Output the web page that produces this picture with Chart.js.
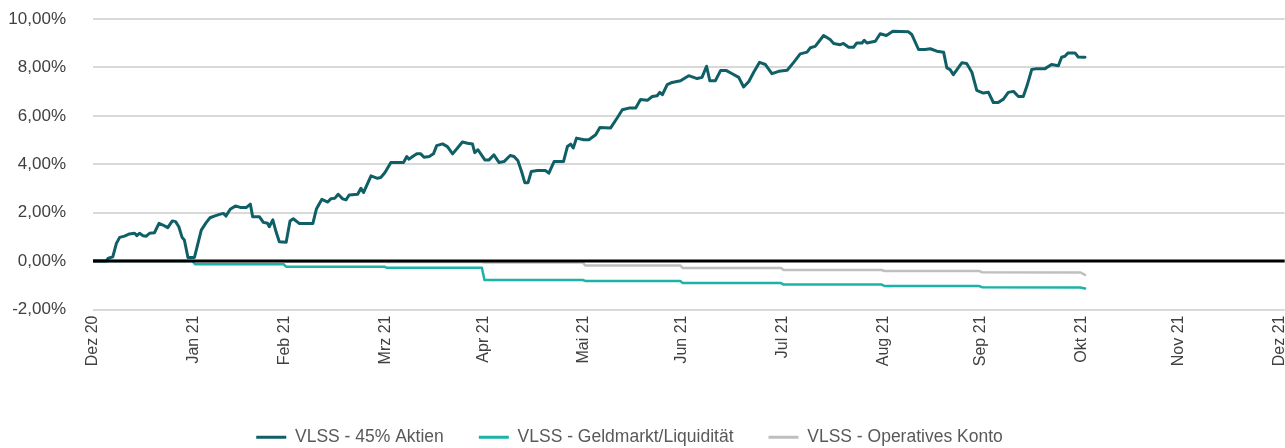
<!DOCTYPE html>
<html><head><meta charset="utf-8">
<script src="https://cdn.jsdelivr.net/npm/chart.js@4.4.0/dist/chart.umd.min.js"></script>
<style>
html,body{margin:0;padding:0;background:#fff;overflow:hidden;width:1285px;height:448px}
#wrap{position:relative;width:1305px;height:456px}
</style></head>
<body><div id="wrap"><canvas id="c" width="1305" height="456"></canvas></div>
<script>
// x = days since 31.12.2020; ticks at month ends
const monthTickDays = [0,31,59,90,120,151,181,212,243,273,304,334,365];
const monthLabels = ['Dez 20','Jan 21','Feb 21','Mrz 21','Apr 21','Mai 21','Jun 21','Jul 21','Aug 21','Sep 21','Okt 21','Nov 21','Dez 21'];
const seriesNames = ['VLSS - 45% Aktien','VLSS - Geldmarkt/Liquidität','VLSS - Operatives Konto'];

const aktienDays = [0,4.1,4.6,6.1,7.2,8.2,9.7,11.2,12.8,13.5,
14.3,15.4,16.4,17.4,18.9,20.3,21.5,23.0,24.4,25.4,
26.4,27.4,28.1,29.2,31.2,33.3,34.8,36.0,37.3,38.9,
40.1,40.9,42.2,43.8,45.5,47.1,48.4,49.1,51.2,52.4,
53.7,54.2,55.3,56.3,57.3,59.4,60.6,61.6,63.5,67.6,
68.7,70.4,72.2,73.2,74.4,75.4,76.8,77.8,78.8,81.4,
82.4,83.2,85.5,87.5,88.5,89.8,91.6,95.5,96.5,97.2,
98.3,99.6,100.8,101.8,103.4,104.7,105.7,107.5,109.0,110.6,
112.1,113.6,115.2,116.7,117.4,118.4,120.5,121.8,123.3,124.9,
126.4,128.3,129.5,130.7,131.8,132.8,133.8,134.8,136.7,139.2,
140.2,141.8,144.7,145.9,146.9,147.7,148.7,151.0,152.5,154.6,
155.9,159.2,161.2,162.8,164.8,166.9,168.4,170.5,172.0,173.5,
174.3,175.1,176.6,178.1,180.7,183.2,185.8,187.3,188.7,189.7,
191.4,193.0,194.8,196.6,198.6,200.1,201.7,203.2,205.0,206.8,
208.8,210.9,213.5,215.5,217.5,219.6,220.6,222.1,224.7,226.7,
227.8,229.8,230.8,232.4,233.9,234.9,236.5,237.2,238.0,240.6,
242.1,244.0,246.0,248.2,250.8,251.8,253.9,255.9,257.5,259.5,
261.6,262.6,263.6,264.6,267.2,268.7,270.3,271.8,273.8,275.4,
276.9,278.4,280.0,281.5,283.1,284.6,286.1,287.2,288.7,290.2,
292.8,294.8,296.9,297.9,298.9,299.9,302.0,303.0,305.1];
const aktienValues = [0,0,0.11,0.18,0.73,0.98,1.03,1.12,1.15,1.05,
1.15,1.05,1.03,1.15,1.17,1.56,1.49,1.38,1.66,1.63,
1.42,0.98,0.87,0.15,0.15,1.28,1.59,1.79,1.86,1.93,
1.97,1.86,2.14,2.28,2.21,2.21,2.35,1.83,1.83,1.60,
1.56,1.42,1.70,1.21,0.80,0.78,1.66,1.75,1.55,1.55,
2.15,2.55,2.44,2.58,2.60,2.76,2.57,2.53,2.73,2.76,
3.01,2.83,3.52,3.42,3.45,3.66,4.07,4.07,4.32,4.21,
4.32,4.43,4.43,4.29,4.32,4.43,4.77,4.84,4.73,4.43,
4.67,4.92,4.87,4.84,4.48,4.60,4.18,4.18,4.39,4.07,
4.11,4.36,4.32,4.14,3.70,3.24,3.24,3.70,3.74,3.74,
3.63,4.11,4.11,4.73,4.83,4.67,5.08,5.01,5.01,5.22,
5.52,5.50,5.91,6.25,6.32,6.32,6.67,6.64,6.80,6.83,
6.97,6.87,7.29,7.38,7.45,7.66,7.54,7.59,8.05,7.45,
7.45,7.87,7.87,7.74,7.59,7.19,7.42,7.80,8.21,8.12,
7.74,7.84,7.88,8.21,8.56,8.63,8.81,8.87,9.32,9.15,
8.99,8.94,8.99,8.83,8.83,9.01,9.01,9.12,9.01,9.08,
9.39,9.32,9.49,9.48,9.47,9.36,8.74,8.74,8.77,8.67,
8.63,7.98,7.91,7.70,8.19,8.16,7.80,7.05,6.94,6.97,
6.55,6.55,6.69,6.97,7.01,6.80,6.80,7.22,7.91,7.95,
7.95,8.12,8.07,8.42,8.46,8.60,8.60,8.43,8.42];

const geldDays = [0,30.6,31.4,58.6,59.4,89.6,90.4,119.6,120.4,150.6,151.4,180.6,181.4,211.6,212.4,242.6,243.4,272.6,273.4,303.6,305.1];
const geldValues = [0,0,-0.13,-0.13,-0.23,-0.23,-0.28,-0.28,-0.78,-0.78,-0.82,-0.82,-0.91,-0.91,-0.97,-0.97,-1.03,-1.03,-1.08,-1.09,-1.13];

const kontoDays = [0,30.6,31.4,58.6,59.4,89.6,90.4,119.6,120.4,150.6,151.4,180.6,181.4,211.6,212.4,242.6,243.4,272.6,273.4,303.6,305.1];
const kontoValues = [0,0,-0.01,-0.01,-0.03,-0.03,-0.04,-0.04,-0.06,-0.06,-0.18,-0.18,-0.29,-0.29,-0.37,-0.37,-0.41,-0.41,-0.46,-0.47,-0.57];

const xMin = 0, xMax = 366.5;
const yMin = -2, yMax = 10, yStep = 2;

const toXY = (xs, ys) => xs.map((x, i) => ({x, y: ys[i]}));

Chart.defaults.font.family = '"Liberation Sans", Arial, Helvetica, sans-serif';

const legendShift = {
  id: 'legendShift',
  afterLayout(chart) {
    const lg = chart.legend;
    if (lg) { lg.left -= 23; lg.right -= 23; }
  }
};

new Chart(document.getElementById('c'), {
  type: 'line',
  data: {
    datasets: [
      {label: seriesNames[0], data: toXY(aktienDays, aktienValues), borderColor: '#0f5f66', backgroundColor: '#0f5f66', borderWidth: 3, order: 1},
      {label: seriesNames[1], data: toXY(geldDays, geldValues), borderColor: '#1bb3a7', backgroundColor: '#1bb3a7', borderWidth: 2.5, order: 2},
      {label: seriesNames[2], data: toXY(kontoDays, kontoValues), borderColor: '#bfbfbf', backgroundColor: '#bfbfbf', borderWidth: 2.5, order: 3},
      {label: 'zero', data: [{x: xMin, y: 0}, {x: xMax, y: 0}], borderColor: '#000000', backgroundColor: '#000000', borderWidth: 3, order: 0}
    ]
  },
  options: {
    responsive: false,
    animation: false,
    devicePixelRatio: 1,
    elements: {point: {radius: 0, hoverRadius: 0}, line: {tension: 0, borderJoinStyle: 'round', borderCapStyle: 'round'}},
    layout: {padding: {top: 19, left: 0, right: 0, bottom: 0}},
    plugins: {
      tooltip: {enabled: false},
      legend: {
        position: 'bottom',
        labels: {
          boxWidth: 30,
          boxHeight: 3,
          padding: 35,
          color: '#595959',
          font: {size: 17.5},
          generateLabels: (chart) => Chart.defaults.plugins.legend.labels.generateLabels(chart)
            .map(it => Object.assign(it, {lineWidth: 0, fillStyle: it.strokeStyle})),
          filter: (item) => item.text !== 'zero'
        }
      }
    },
    scales: {
      x: {
        type: 'linear',
        min: xMin, max: xMax,
        grid: {display: false, drawTicks: false},
        border: {display: false},
        afterBuildTicks: (axis) => { axis.ticks = monthTickDays.map(v => ({value: v})); },
        afterFit: (scale) => { scale.height = 84; },
        ticks: {
          autoSkip: false,
          minRotation: 90, maxRotation: 90,
          padding: 6,
          color: '#404040',
          font: {size: 16},
          callback: (v, i) => monthLabels[i]
        }
      },
      y: {
        type: 'linear',
        min: yMin, max: yMax,
        border: {display: false},
        afterFit: (scale) => { scale.width = 93; scale.paddingTop = 0; scale.paddingBottom = 0; },
        grid: {
          drawTicks: false,
          color: (ctx) => ctx.tick && ctx.tick.value === 0 ? 'rgba(0,0,0,0)' : '#d9d9d9',
          lineWidth: 2
        },
        ticks: {
          stepSize: yStep,
          padding: 27,
          color: '#404040',
          font: {size: 17},
          callback: (v) => v.toFixed(2).replace('.', ',') + '%'
        }
      }
    }
  },
  plugins: [legendShift]
});
</script>
</body></html>
